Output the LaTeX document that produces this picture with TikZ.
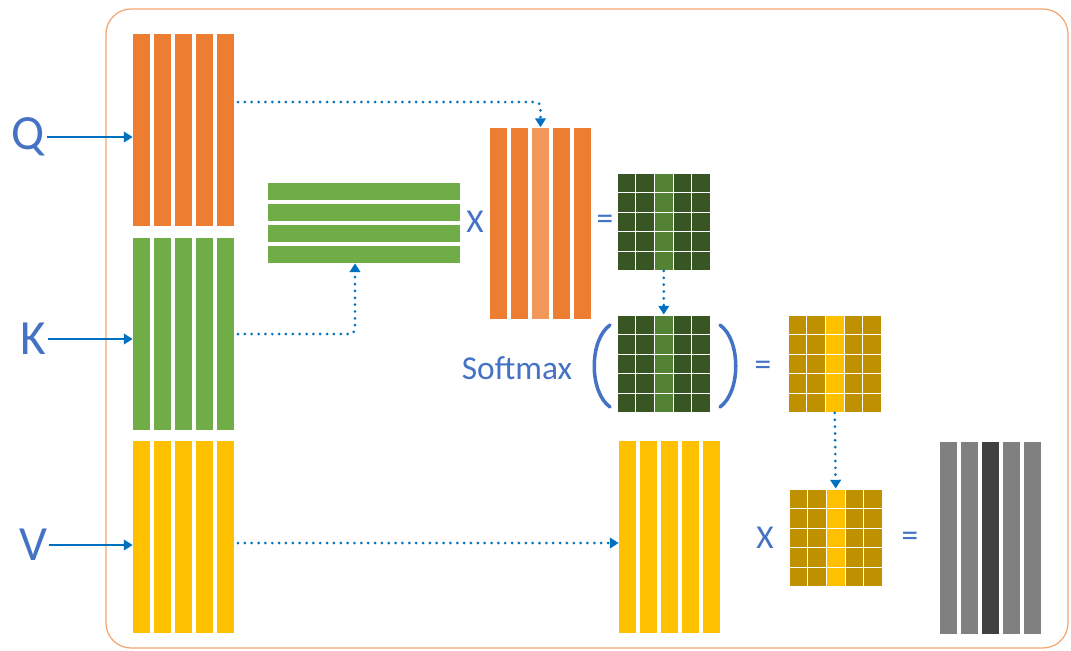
\documentclass[tikz,border=0pt]{standalone}
\usepackage{fontspec}
\setmainfont{Carlito}
\usetikzlibrary{arrows.meta,calc}

\definecolor{qorange}{HTML}{ED7D31}
\definecolor{qlight}{HTML}{F1975A}
\definecolor{kgreen}{HTML}{70AD47}
\definecolor{vgold}{HTML}{FFC000}
\definecolor{gdark}{HTML}{375623}
\definecolor{glight}{HTML}{548235}
\definecolor{golddark}{HTML}{BF9000}
\definecolor{graybar}{HTML}{808080}
\definecolor{graydark}{HTML}{404040}
\definecolor{tblue}{HTML}{4472C4}
\definecolor{ablue}{HTML}{0070C0}
\definecolor{frameor}{HTML}{F4A46E}

\tikzset{
  vbar/.style={rectangle, inner sep=0pt, minimum width=0.34cm, minimum height=3.84cm},
  hbar/.style={rectangle, inner sep=0pt, minimum width=3.84cm, minimum height=0.34cm},
  cell/.style={rectangle, inner sep=0pt, minimum width=0.374cm, minimum height=0.39cm, draw=white, line width=0.5pt},
  letter/.style={text=tblue, inner sep=1pt, font=\fontsize{28}{32}\selectfont},
  sign/.style={text=tblue, inner sep=1pt, font=\fontsize{19}{22}\selectfont},
  feed/.style={-{Triangle[width=6pt,length=5pt]}, draw=ablue, line width=1pt},
  flow/.style={-{Triangle[width=6pt,length=5pt]}, draw=ablue, line width=1.7pt, dash pattern=on 0pt off 3.9pt, line cap=round},
  paren/.style={draw=tblue, line width=2pt, line cap=round},
}

\begin{document}
\begin{tikzpicture}[x=0.02cm, y=-0.02cm]

\useasboundingbox (0,0) rectangle (1071,650);
\draw[draw=frameor, line width=0.7pt, rounded corners=0.5cm] (106,9) rectangle (1068,648);

% input matrices
\foreach \i in {1, ..., 5} {
	\pgfmathsetmacro{\xc}{141.5 + 21 * (\i - 1)}
	\node[vbar, fill=qorange] (q\i) at (\xc, 130) {};
	\node[vbar, fill=kgreen] (k\i) at (\xc, 334) {};
	\node[vbar, fill=vgold] (v\i) at (\xc, 537) {};
}

\node[letter] (qlab) at (28, 137) {Q};
\node[letter] (klab) at (33, 339) {K};
\node[letter] (vlab) at (33, 545) {V};

\draw[feed] (qlab.east) -- (qlab.east -| q1.west);
\draw[feed] (klab.east) -- (klab.east -| k1.west);
\draw[feed] (vlab.east) -- (vlab.east -| v1.west);

% K transposed and Q
\foreach \i in {1, ..., 4} {
	\node[hbar, fill=kgreen] (kt\i) at (364, 191.5 + 21 * \i - 21) {};
}
\foreach \i/\c in {1/qorange, 2/qorange, 3/qlight, 4/qorange, 5/qorange} {
	\node[vbar, fill=\c] (qb\i) at (498.5 + 21 * \i - 21, 223.5) {};
}
\foreach \i in {1, ..., 5} {
	\node[vbar, fill=vgold] (vb\i) at (627.5 + 21 * \i - 21, 537) {};
}
\foreach \i/\c in {1/graybar, 2/graybar, 3/graydark, 4/graybar, 5/graybar} {
	\node[vbar, fill=\c] (out\i) at (948.5 + 21 * \i - 21, 538) {};
}

% score matrices
\foreach \g/\ox/\oy/\dk/\lt in {ga/617/173/gdark/glight, gb/617/315/gdark/glight, gc/788/315/golddark/vgold, gd/789/489/golddark/vgold} {
\foreach \r in {1, ..., 5} {
\foreach \c in {1, ..., 5} {
	\pgfmathsetmacro{\cx}{\ox + 9.35 + 18.7 * (\c - 1)}
	\pgfmathsetmacro{\cy}{\oy + 9.75 + 19.5 * (\r - 1)}
	\ifnum\c=3 \def\fc{\lt}\else\def\fc{\dk}\fi
	\node[cell, fill=\fc] (\g\r\c) at (\cx, \cy) {};
}
}
}

\node[sign] (x1) at (475, 222) {X};
\node[sign] (eq1) at (605, 222) {=};
\node[sign] (smax) at (517, 368) {Softmax};
\node[sign] (eq2) at (763, 368) {=};
\node[sign] (x2) at (765, 538) {X};
\node[sign] (eq3) at (910, 539) {=};

\draw[paren] (610, 325) .. controls (589, 340) and (589, 392) .. (610, 407);
\draw[paren] (720, 325) .. controls (741, 340) and (741, 392) .. (720, 407);

% dotted flows
\coordinate (qout) at (238, 102);
\coordinate (kout) at (238, 334);
\coordinate (vout) at (238, 543);
\draw[flow, rounded corners=3pt] (qout) -| (qb3.north);
\draw[flow, rounded corners=3pt] (kout) -| ($(kt4.south) + (-9, 0)$);
\draw[flow] (ga53.south) -- (gb13.north);
\draw[flow] (gc53.south) -- (gd13.north);
\draw[flow] (vout) -- (vout -| vb1.west);

\end{tikzpicture}
\end{document}
